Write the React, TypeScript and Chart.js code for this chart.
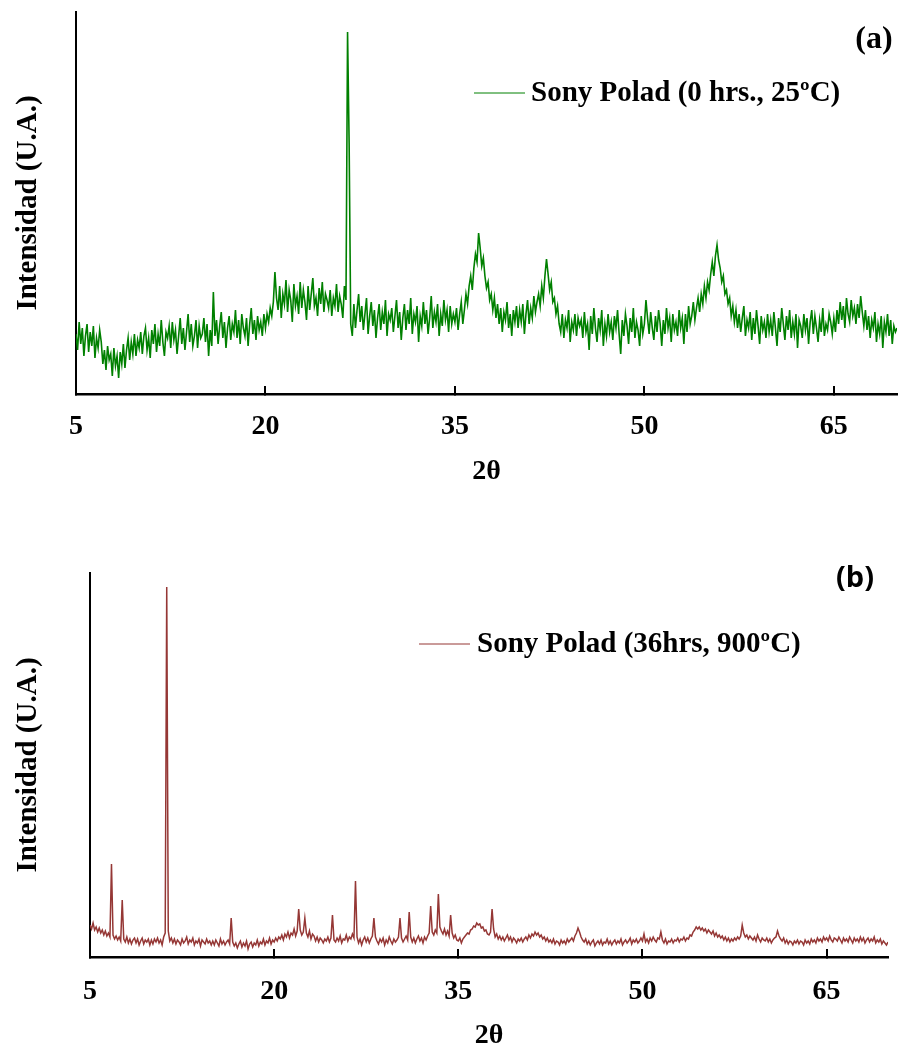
import React, { useEffect, useRef } from "react";
import { Chart, registerables } from "chart.js";

Chart.register(...registerables);

// ---- data ----
const TWO_THETA_START = 5;
const TWO_THETA_STEP = 0.125;
const X_MIN = 5;
const X_MAX = 70;
const X_TICKS = [5, 20, 35, 50, 65];

// (a) Sony Polad (0 hrs., 25ºC) – intensity (a.u.), 2θ = 5 … 70 step 0.125
const intensityA = [
  60, 44, 72, 50, 66, 38, 58, 70, 42, 62, 48, 68, 36, 56, 46, 64, 52, 30, 44, 24,
  48, 34, 40, 18, 46, 28, 38, 16, 42, 30, 50, 26, 44, 56, 34, 52, 40, 60, 38, 54,
  46, 62, 40, 58, 66, 44, 56, 36, 64, 50, 70, 42, 60, 48, 74, 52, 38, 62, 56, 68,
  46, 72, 54, 64, 40, 58, 76, 50, 66, 44, 62, 80, 52, 70, 48, 58, 74, 46, 68, 56,
  60, 76, 52, 70, 38, 64, 48, 102, 58, 74, 50, 68, 82, 56, 72, 46, 66, 78, 54, 70,
  62, 84, 56, 74, 50, 80, 66, 58, 76, 48, 70, 86, 60, 74, 54, 78, 64, 72, 58, 80,
  66, 80, 72, 86, 78, 92, 122, 96, 84, 108, 76, 100, 90, 114, 82, 104, 94, 72, 110, 88,
  98, 80, 112, 86, 104, 92, 74, 108, 84, 100, 116, 88, 96, 78, 106, 90, 112, 82, 100, 94,
  86, 104, 78, 96, 88, 110, 82, 98, 90, 76, 108, 94, 362, 250, 70, 58, 90, 66, 84, 100,
  72, 88, 64, 80, 96, 60, 78, 92, 68, 84, 56, 76, 90, 64, 82, 70, 94, 58, 80, 74,
  86, 62, 78, 94, 66, 82, 54, 76, 90, 64, 84, 70, 96, 60, 80, 72, 88, 52, 78, 68,
  92, 70, 84, 60, 76, 98, 66, 82, 72, 90, 58, 80, 68, 94, 74, 84, 62, 88, 70, 80,
  72, 86, 64, 80, 92, 70, 84, 100, 90, 108, 118, 104, 126, 140, 132, 161, 146, 128, 136, 118,
  106, 112, 94, 100, 84, 96, 76, 90, 70, 86, 62, 82, 74, 92, 66, 80, 58, 84, 72, 88,
  66, 84, 72, 90, 60, 80, 94, 70, 86, 76, 98, 82, 92, 100, 88, 108, 96, 118, 135, 120,
  104, 112, 92, 96, 80, 88, 70, 62, 80, 56, 74, 66, 84, 52, 72, 64, 80, 58, 76, 68,
  74, 56, 82, 62, 70, 44, 78, 60, 86, 66, 52, 76, 64, 84, 48, 70, 58, 80, 62, 72,
  54, 78, 66, 84, 60, 40, 74, 58, 80, 68, 50, 76, 62, 86, 56, 72, 64, 48, 78, 60,
  70, 94, 76, 60, 82, 66, 54, 78, 62, 84, 70, 48, 74, 60, 86, 66, 76, 52, 80, 64,
  72, 58, 84, 66, 76, 50, 80, 62, 88, 70, 78, 92, 74, 86, 96, 82, 100, 90, 108, 96,
  112, 104, 120, 132, 118, 138, 149, 134, 126, 112, 118, 100, 104, 90, 96, 78, 88, 72, 84, 66,
  80, 62, 76, 88, 58, 74, 66, 82, 54, 76, 60, 84, 68, 50, 78, 64, 72, 56, 80, 62,
  74, 58, 82, 66, 48, 76, 62, 86, 70, 54, 78, 64, 84, 56, 72, 60, 80, 46, 74, 68,
  56, 80, 64, 76, 50, 72, 84, 60, 78, 66, 52, 74, 62, 86, 58, 70, 64, 80, 72, 60,
  76, 62, 84, 70, 92, 74, 88, 66, 96, 80, 72, 94, 78, 86, 70, 90, 76, 98, 82, 68,
  84, 64, 78, 56, 74, 66, 82, 52, 70, 60, 78, 46, 72, 62, 80, 58, 74, 50, 68, 62,
  66,
];

// (b) Sony Polad (36hrs, 900ºC) – intensity (a.u.), 2θ = 5 … 70 step 0.125
const intensityB = [
  32, 28, 34, 27, 30, 25, 29, 24, 27, 22, 26, 21, 24, 20, 93, 22, 18, 21, 17, 20,
  16, 57, 18, 15, 20, 14, 18, 13, 17, 19, 14, 18, 12, 16, 19, 13, 17, 15, 18, 12,
  17, 13, 18, 15, 19, 14, 17, 12, 20, 24, 370, 26, 16, 19, 14, 18, 13, 17, 15, 12,
  18, 14, 16, 20, 13, 17, 15, 19, 12, 16, 14, 18, 11, 17, 15, 13, 18, 14, 16, 12,
  16, 12, 17, 14, 11, 18, 13, 16, 12, 15, 17, 13, 39, 15, 11, 14, 9, 13, 16, 10,
  14, 11, 16, 8, 13, 15, 10, 14, 12, 17, 11, 15, 13, 18, 12, 16, 14, 19, 13, 17,
  15, 19, 16, 20, 18, 22, 17, 23, 20, 25, 19, 24, 22, 28, 21, 26, 48, 27, 22, 25,
  39, 24, 20, 26, 18, 23, 21, 16, 20, 15, 19, 17, 14, 18, 16, 20, 15, 19, 42, 17,
  15, 19, 16, 21, 14, 18, 17, 22, 16, 20, 18, 23, 19, 76, 20, 14, 18, 12, 17, 20,
  15, 19, 14, 18, 21, 39, 20, 16, 13, 18, 15, 19, 12, 17, 14, 20, 16, 13, 18, 15,
  17, 20, 39, 19, 15, 18, 21, 17, 45, 20, 15, 19, 14, 18, 21, 16, 19, 14, 20, 17,
  21, 24, 51, 25, 22, 27, 24, 63, 30, 26, 23, 28, 22, 26, 21, 42, 24, 19, 22, 17,
  16, 19, 14, 18, 20, 22, 24, 23, 27, 28, 31, 30, 34, 32, 33, 29, 30, 26, 27, 23,
  22, 25, 48, 28, 20, 23, 18, 21, 17, 20, 16, 19, 22, 17, 20, 15, 19, 17, 14, 18,
  16, 19, 15, 18, 20, 17, 22, 19, 23, 21, 25, 22, 24, 20, 22, 18, 20, 16, 19, 15,
  17, 14, 18, 13, 16, 15, 12, 17, 14, 16, 13, 18, 15, 17, 19, 16, 21, 24, 29, 25,
  20, 17, 15, 18, 13, 16, 12, 15, 17, 11, 14, 16, 13, 17, 12, 15, 14, 18, 13, 16,
  12, 15, 17, 13, 16, 14, 18, 12, 15, 17, 14, 16, 19, 13, 17, 15, 18, 14, 16, 19,
  16, 23, 15, 18, 14, 19, 16, 20, 17, 15, 19, 18, 25, 17, 14, 18, 13, 16, 15, 18,
  14, 17, 16, 19, 15, 18, 17, 20, 16, 19, 18, 22, 21, 25, 27, 30, 28, 30, 27, 29,
  26, 28, 24, 27, 25, 23, 26, 21, 24, 20, 22, 19, 21, 17, 20, 16, 19, 15, 18, 16,
  19, 17, 20, 18, 21, 32, 24, 20, 22, 18, 21, 19, 17, 20, 16, 22, 18, 15, 19, 17,
  16, 19, 15, 18, 14, 17, 19, 20, 26, 21, 18, 16, 19, 14, 17, 13, 16, 15, 12, 16,
  14, 17, 13, 16, 15, 12, 17, 14, 16, 13, 18, 15, 17, 14, 19, 16, 18, 15, 20, 17,
  19, 16, 21, 17, 15, 19, 18, 16, 20, 17, 14, 19, 16, 18, 15, 20, 17, 14, 19, 16,
  18, 15, 20, 16, 19, 14, 17, 19, 15, 18, 16, 20, 14, 17, 15, 18, 13, 16, 14, 12,
  15,
];

const LABEL_A = "Sony Polad (0 hrs., 25ºC)";
const LABEL_B = "Sony Polad (36hrs, 900ºC)";
const PANEL_A = "(a)";
const PANEL_B = "(b)";
const Y_TITLE = "Intensidad (U.A.)";
const X_TITLE = "2θ";
const Y_MAX_A = 382;
const Y_MAX_B = 384;

const COLOR_A = "#008000";
const COLOR_B = "#953735";

const SERIF = "'Liberation Serif', 'Times New Roman', serif";

function toPoints(values: number[]) {
  return values.map((v, i) => ({ x: TWO_THETA_START + i * TWO_THETA_STEP, y: v }));
}

const annotPlugin = {
  id: "annot",
  afterDraw(chart: any, _args: any, opts: any) {
    const ctx = chart.ctx as CanvasRenderingContext2D;
    ctx.save();
    ctx.strokeStyle = opts.lineColor;
    ctx.lineWidth = 1;
    ctx.beginPath();
    ctx.moveTo(opts.legendX, opts.legendY);
    ctx.lineTo(opts.legendX + opts.legendLen, opts.legendY);
    ctx.stroke();
    ctx.fillStyle = "#000";
    ctx.font = `bold 29px ${SERIF}`;
    ctx.textBaseline = "middle";
    ctx.textAlign = "left";
    ctx.fillText(opts.legendText, opts.textX, opts.legendY + 1);
    ctx.font = opts.panelFont;
    ctx.textAlign = "center";
    ctx.fillText(opts.panelText, opts.panelX, opts.panelY);
    ctx.restore();
  },
};

function buildConfig(p: {
  values: number[];
  color: string;
  label: string;
  lineWidth: number;
  yMax: number;
  padTop: number;
  padRight: number;
  yWidth: number;
  xHeight: number;
  tickPad: number;
  titlePadBottom: number;
  titleLineHeight: number;
  annot: any;
}): any {
  return {
    type: "line",
    data: {
      datasets: [
        {
          label: p.label,
          data: toPoints(p.values),
          borderColor: p.color,
          borderWidth: p.lineWidth,
          pointRadius: 0,
          tension: 0,
          fill: false,
        },
      ],
    },
    options: {
      animation: false,
      responsive: false,
      events: [],
      layout: { padding: { left: 0, top: p.padTop, right: p.padRight, bottom: 0 } },
      plugins: {
        legend: { display: false },
        tooltip: { enabled: false },
        annot: p.annot,
      },
      scales: {
        x: {
          type: "linear",
          min: X_MIN,
          max: X_MAX,
          afterBuildTicks: (scale: any) => {
            scale.ticks = X_TICKS.map((v) => ({ value: v }));
          },
          afterFit: (scale: any) => {
            scale.height = p.xHeight;
          },
          grid: {
            display: true,
            drawOnChartArea: false,
            drawTicks: true,
            tickLength: -8,
            color: "#000",
            lineWidth: 2,
          },
          border: { display: true, color: "#000", width: 2.5 },
          ticks: {
            color: "#000",
            padding: p.tickPad,
            maxRotation: 0,
            autoSkip: false,
            font: { family: SERIF, size: 28, weight: "bold" },
            callback: (v: any) => String(v),
          },
          title: {
            display: true,
            text: X_TITLE,
            color: "#000",
            padding: { top: 0, bottom: p.titlePadBottom },
            font: { family: SERIF, size: 28, weight: "bold", lineHeight: p.titleLineHeight },
          },
        },
        y: {
          type: "linear",
          min: 0,
          max: p.yMax,
          afterFit: (scale: any) => {
            scale.width = p.yWidth;
          },
          grid: { display: false },
          border: { display: true, color: "#000", width: 2 },
          ticks: { display: false },
          title: {
            display: true,
            text: Y_TITLE,
            color: "#000",
            padding: { top: 11, bottom: 0 },
            font: { family: SERIF, size: 29, weight: "bold" },
          },
        },
      },
    },
    plugins: [annotPlugin],
  };
}

export default function App() {
  const refA = useRef<HTMLCanvasElement | null>(null);
  const refB = useRef<HTMLCanvasElement | null>(null);

  useEffect(() => {
    const chartA = new Chart(
      refA.current as HTMLCanvasElement,
      buildConfig({
        values: intensityA,
        color: COLOR_A,
        label: LABEL_A,
        lineWidth: 1.6,
        yMax: Y_MAX_A,
        padTop: 12,
        padRight: 2,
        yWidth: 76,
        xHeight: 106,
        tickPad: 24,
        titlePadBottom: 11,
        titleLineHeight: 1.2,
        annot: {
          lineColor: COLOR_A,
          legendX: 474,
          legendLen: 51,
          legendY: 93,
          textX: 531,
          legendText: LABEL_A,
          panelText: PANEL_A,
          panelX: 874,
          panelY: 40,
          panelFont: `bold 32px ${SERIF}`,
        },
      })
    );
    const chartB = new Chart(
      refB.current as HTMLCanvasElement,
      buildConfig({
        values: intensityB,
        color: COLOR_B,
        label: LABEL_B,
        lineWidth: 1.5,
        yMax: Y_MAX_B,
        padTop: 63,
        padRight: 11,
        yWidth: 90,
        xHeight: 90,
        tickPad: 26,
        titlePadBottom: 0,
        titleLineHeight: 0.8,
        annot: {
          lineColor: COLOR_B,
          legendX: 419,
          legendLen: 51,
          legendY: 134,
          textX: 477,
          legendText: LABEL_B,
          panelText: PANEL_B,
          panelX: 855,
          panelY: 69,
          panelFont: `bold 29px 'Open Sans', Lato, sans-serif`,
        },
      })
    );
    return () => {
      chartA.destroy();
      chartB.destroy();
    };
  }, []);

  return (
    <div style={{ position: "absolute", left: 0, top: 0, width: 899, height: 1047, background: "#fff" }}>
      <canvas
        ref={refA}
        width={899}
        height={500}
        style={{ position: "absolute", left: 0, top: 0, width: 899, height: 500 }}
      />
      <canvas
        ref={refB}
        width={899}
        height={537}
        style={{ position: "absolute", left: 0, top: 510, width: 899, height: 537 }}
      />
    </div>
  );
}
